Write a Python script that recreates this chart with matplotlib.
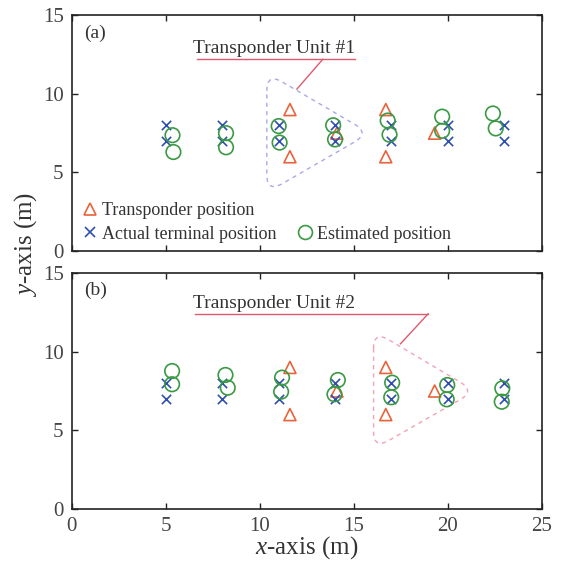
import numpy as np
import matplotlib
matplotlib.use("Agg")
import matplotlib.pyplot as plt
from matplotlib.path import Path
from matplotlib.patches import PathPatch
from matplotlib.lines import Line2D

plt.rcParams['font.family'] = ['Liberation Serif', 'DejaVu Serif']
plt.rcParams['mathtext.fontset'] = 'custom'
plt.rcParams['mathtext.it'] = 'Liberation Serif:italic'
plt.rcParams['mathtext.rm'] = 'Liberation Serif'

# ---- data ----
term_x = [5, 5, 8, 8, 11, 11, 14, 14, 17, 17, 20, 20, 23, 23]
term_y = [8, 7, 8, 7, 8, 7, 8, 7, 8, 7, 8, 7, 8, 7]

trans_x = [11.6, 11.6, 14.1, 16.7, 16.7, 19.3]
trans_y = [9, 6, 7.5, 9, 6, 7.5]

est_a_x = [5.35, 5.4, 8.2, 8.2, 11.0, 11.05, 13.9, 14.0, 16.8, 16.9, 19.7, 19.7, 22.4, 22.55]
est_a_y = [7.37, 6.3, 7.5, 6.6, 7.95, 6.9, 8.0, 7.1, 8.3, 7.4, 8.55, 7.65, 8.75, 7.8]

est_b_x = [5.33, 5.33, 8.17, 8.29, 11.18, 11.13, 14.15, 13.97, 17.04, 16.99, 19.97, 19.94, 22.9, 22.87]
est_b_y = [8.77, 7.93, 8.52, 7.71, 8.35, 7.46, 8.2, 7.29, 8.03, 7.1, 7.88, 6.97, 7.67, 6.82]

x_ticks = [0, 5, 10, 15, 20, 25]
y_ticks = [0, 5, 10, 15]

C_TRI = '#E8643C'
C_X = '#2F4FB0'
C_O = '#3A9A44'
C_DASH_A = '#A9A9E6'
C_DASH_B = '#F2A3B3'
C_ANN = '#E05A6E'
C_TXT = '#333333'

fig = plt.figure(figsize=(5.62, 5.63), dpi=100)
ax_a = fig.add_axes([0.128, 0.554, 0.836, 0.419])
ax_b = fig.add_axes([0.128, 0.096, 0.836, 0.419])


def rounded_triangle(ax, verts, frac, color):
    n = len(verts)
    verts = [np.array(v, float) for v in verts]
    codes, pts = [], []
    for i in range(n):
        p = verts[i]
        prev = verts[i - 1]
        nxt = verts[(i + 1) % n]
        a = p + (prev - p) * frac
        b = p + (nxt - p) * frac
        pts.append(a); codes.append(Path.MOVETO if i == 0 else Path.LINETO)
        pts.append(p); codes.append(Path.CURVE3)
        pts.append(b); codes.append(Path.CURVE3)
    pts.append(pts[0]); codes.append(Path.LINETO)
    patch = PathPatch(Path(pts, codes), facecolor='none', edgecolor=color,
                      linestyle=(0, (3, 3)), linewidth=1.0, zorder=1)
    ax.add_patch(patch)


def draw_panel(ax, ex, ey, unit_idx, pads, dash_color, label, show_xlabels):
    ax.scatter(trans_x, trans_y, marker='^', s=75, facecolors='none',
               edgecolors=C_TRI, linewidths=1.2, zorder=3)
    ax.scatter(term_x, term_y, marker='x', s=45, color=C_X, linewidths=1.2, zorder=4)
    ax.scatter(ex, ey, marker='o', s=110, facecolors='none',
               edgecolors=C_O, linewidths=1.2, zorder=5)
    ax.set_xlim(0, 25)
    ax.set_ylim(0, 15)
    ax.set_xticks(x_ticks)
    ax.set_yticks(y_ticks)
    ax.tick_params(direction='in', top=True, right=True, length=4, width=1.0,
                   labelsize=15, labelcolor='#444444', color='#222222', pad=6)
    if not show_xlabels:
        ax.tick_params(labelbottom=False)
    for s in ax.spines.values():
        s.set_linewidth(1.2)
        s.set_color('#222222')

    # dashed rounded triangle around a transponder unit
    ux = [trans_x[i] for i in unit_idx]
    uy = [trans_y[i] for i in unit_idx]
    pl, pr, pt, pb = pads
    xl = min(ux) + pl
    xr = max(ux) + pr
    yt = max(uy) + pt
    yb = min(uy) + pb
    ym = (max(uy) + min(uy)) / 2
    rounded_triangle(ax, [(xl, yt), (xr, ym), (xl, yb)], 0.15, dash_color)

    ax.text(0.025, 0.925, label, transform=ax.transAxes, fontsize=14,
            color=C_TXT, ha='left', va='center')


draw_panel(ax_a, est_a_x, est_a_y, [0, 1, 2], (-1.23, 1.75, 2.33, -2.28), C_DASH_A, '(a)', False)
draw_panel(ax_b, est_b_x, est_b_y, [3, 4, 5], (-0.65, 2.16, 2.33, -2.2), C_DASH_B, '(b)', True)

# annotations (panel a)
ax_a.text(6.45, 12.35, 'Transponder Unit #1', fontsize=14, color=C_TXT,
          ha='left', va='bottom')
ax_a.plot([6.65, 15.05], [12.2, 12.2], color=C_ANN, lw=1.0, zorder=2)
ax_a.plot([13.35, 11.97], [12.2, 10.3], color=C_ANN, lw=1.0, zorder=2)

# annotations (panel b)
ax_b.text(6.45, 12.55, 'Transponder Unit #2', fontsize=14, color=C_TXT,
          ha='left', va='bottom')
ax_b.plot([6.55, 18.95], [12.4, 12.4], color=C_ANN, lw=1.0, zorder=2)
ax_b.plot([18.95, 17.48], [12.4, 10.5], color=C_ANN, lw=1.0, zorder=2)

# legend in panel a
h_t = Line2D([], [], marker='^', ls='none', mfc='none', mec=C_TRI, ms=9, mew=1.2)
h_x = Line2D([], [], marker='x', ls='none', color=C_X, ms=6.5, mew=1.2)
h_o = Line2D([], [], marker='o', ls='none', mfc='none', mec=C_O, ms=10, mew=1.2)
h_blank = Line2D([], [], ls='none')
leg = ax_a.legend([h_t, h_x, h_blank, h_o],
                  ['Transponder position', 'Actual terminal position', '', 'Estimated position'],
                  ncol=2, loc='lower left', bbox_to_anchor=(0.0, -0.01), frameon=False,
                  fontsize=13, handlelength=0.8, handletextpad=0.25,
                  columnspacing=1.2, labelspacing=0.35, borderaxespad=0.2)
for t in leg.get_texts():
    t.set_color(C_TXT)

fig.text(0.545, 0.028, r'$x$-axis (m)', fontsize=18, color=C_TXT, ha='center', va='center')
fig.text(0.045, 0.565, r'$y$-axis (m)', fontsize=18, color=C_TXT, ha='center',
         va='center', rotation=90)

fig.savefig('out.png', dpi=100)
